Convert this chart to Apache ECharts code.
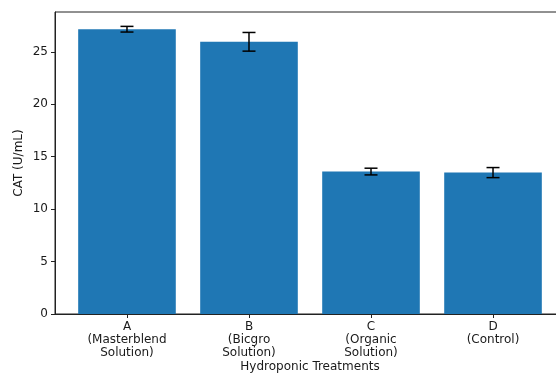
<!DOCTYPE html>
<html>
<head>
<meta charset="utf-8">
<script src="https://cdn.jsdelivr.net/npm/echarts@6/dist/echarts.min.js"></script>
<style>
  html, body { margin: 0; padding: 0; background: #fff; }
  #chart { width: 556px; height: 375px; }
</style>
</head>
<body>
<div id="chart"></div>
<script>
// Treatment categories (tick labels on the x axis)
const categories = [
  'A\n(Masterblend\nSolution)',
  'B\n(Bicgro\nSolution)',
  'C\n(Organic\nSolution)',
  'D\n(Control)'
];
// Mean CAT activity per treatment (U/mL)
const catMeans = [27.15, 25.95, 13.58, 13.48];
// Error (± half-length of each error bar)
const catErrors = [0.27, 0.89, 0.32, 0.48];
// Y axis tick values
const yTicks = [0, 5, 10, 15, 20, 25];

const positions = categories.map((_, i) => i);
const barData = positions.map((x, i) => [x, catMeans[i]]);
const errData = positions.map((x, i) => [x, catMeans[i] - catErrors[i], catMeans[i] + catErrors[i]]);

// Axis limits with 5% padding, like a default bar plot
const xPad = (positions.length - 1 + 0.8) * 0.05;
const xMin = -0.4 - xPad;
const xMax = positions.length - 1 + 0.4 + xPad;
const yMax = Math.max(...catMeans.map((v, i) => v + catErrors[i])) * 1.05;

const gridLeft = 55, gridTop = 12, gridWidth = 510, gridHeight = 302;
const unitPx = gridWidth / (xMax - xMin);

const font = 'DejaVu Sans';
const fontSize = 12;
const textColor = '#1a1a1a';
const spine = '#222';

const chart = echarts.init(document.getElementById('chart'), null, { renderer: 'canvas' });
chart.setOption({
  animation: false,
  backgroundColor: '#fff',
  grid: {
    left: gridLeft, top: gridTop, width: gridWidth, height: gridHeight,
    containLabel: false,
    outerBoundsMode: 'none',
    show: true, borderColor: spine, borderWidth: 1, backgroundColor: 'transparent'
  },
  xAxis: {
    type: 'value',
    min: xMin, max: xMax,
    name: 'Hydroponic Treatments',
    nameLocation: 'middle',
    nameGap: 47,
    nameMoveOverlap: false,
    nameTextStyle: { fontFamily: font, fontSize: fontSize, color: textColor },
    splitLine: { show: false },
    axisLine: { show: true, onZero: false, lineStyle: { color: spine, width: 1 } },
    axisTick: { show: true, length: 4, customValues: positions, lineStyle: { color: spine, width: 1 } },
    axisLabel: {
      customValues: positions,
      formatter: v => categories[Math.round(v)] || '',
      fontFamily: font, fontSize: fontSize, color: textColor,
      lineHeight: 13.3, margin: 6, verticalAlign: 'top'
    }
  },
  yAxis: {
    type: 'value',
    min: 0, max: yMax,
    name: 'CAT (U/mL)',
    nameLocation: 'middle',
    nameGap: 30,
    nameMoveOverlap: false,
    nameRotate: 90,
    nameTextStyle: { fontFamily: font, fontSize: fontSize, color: textColor },
    splitLine: { show: false },
    axisLine: { show: true, onZero: false, lineStyle: { color: spine, width: 1 } },
    axisTick: { show: true, length: 4, customValues: yTicks, lineStyle: { color: spine, width: 1 } },
    axisLabel: {
      customValues: yTicks,
      fontFamily: font, fontSize: fontSize, color: textColor, margin: 7
    }
  },
  series: [
    {
      type: 'bar',
      data: barData,
      barWidth: unitPx * 0.8,
      itemStyle: { color: '#1f77b4' },
      z: 2
    },
    {
      // Error bars: vertical stem with a cap at each end
      type: 'custom',
      data: errData,
      encode: { x: 0, y: [1, 2] },
      z: 3,
      renderItem: function (params, api) {
        const x = api.value(0);
        const lo = api.coord([x, api.value(1)]);
        const hi = api.coord([x, api.value(2)]);
        const hw = 6.5;
        const st = { stroke: '#000', lineWidth: 1.5 };
        return {
          type: 'group',
          children: [
            { type: 'line', shape: { x1: hi[0], y1: hi[1], x2: lo[0], y2: lo[1] }, style: st },
            { type: 'line', shape: { x1: hi[0] - hw, y1: hi[1], x2: hi[0] + hw, y2: hi[1] }, style: st },
            { type: 'line', shape: { x1: lo[0] - hw, y1: lo[1], x2: lo[0] + hw, y2: lo[1] }, style: st }
          ]
        };
      }
    }
  ]
});
</script>
</body>
</html>
